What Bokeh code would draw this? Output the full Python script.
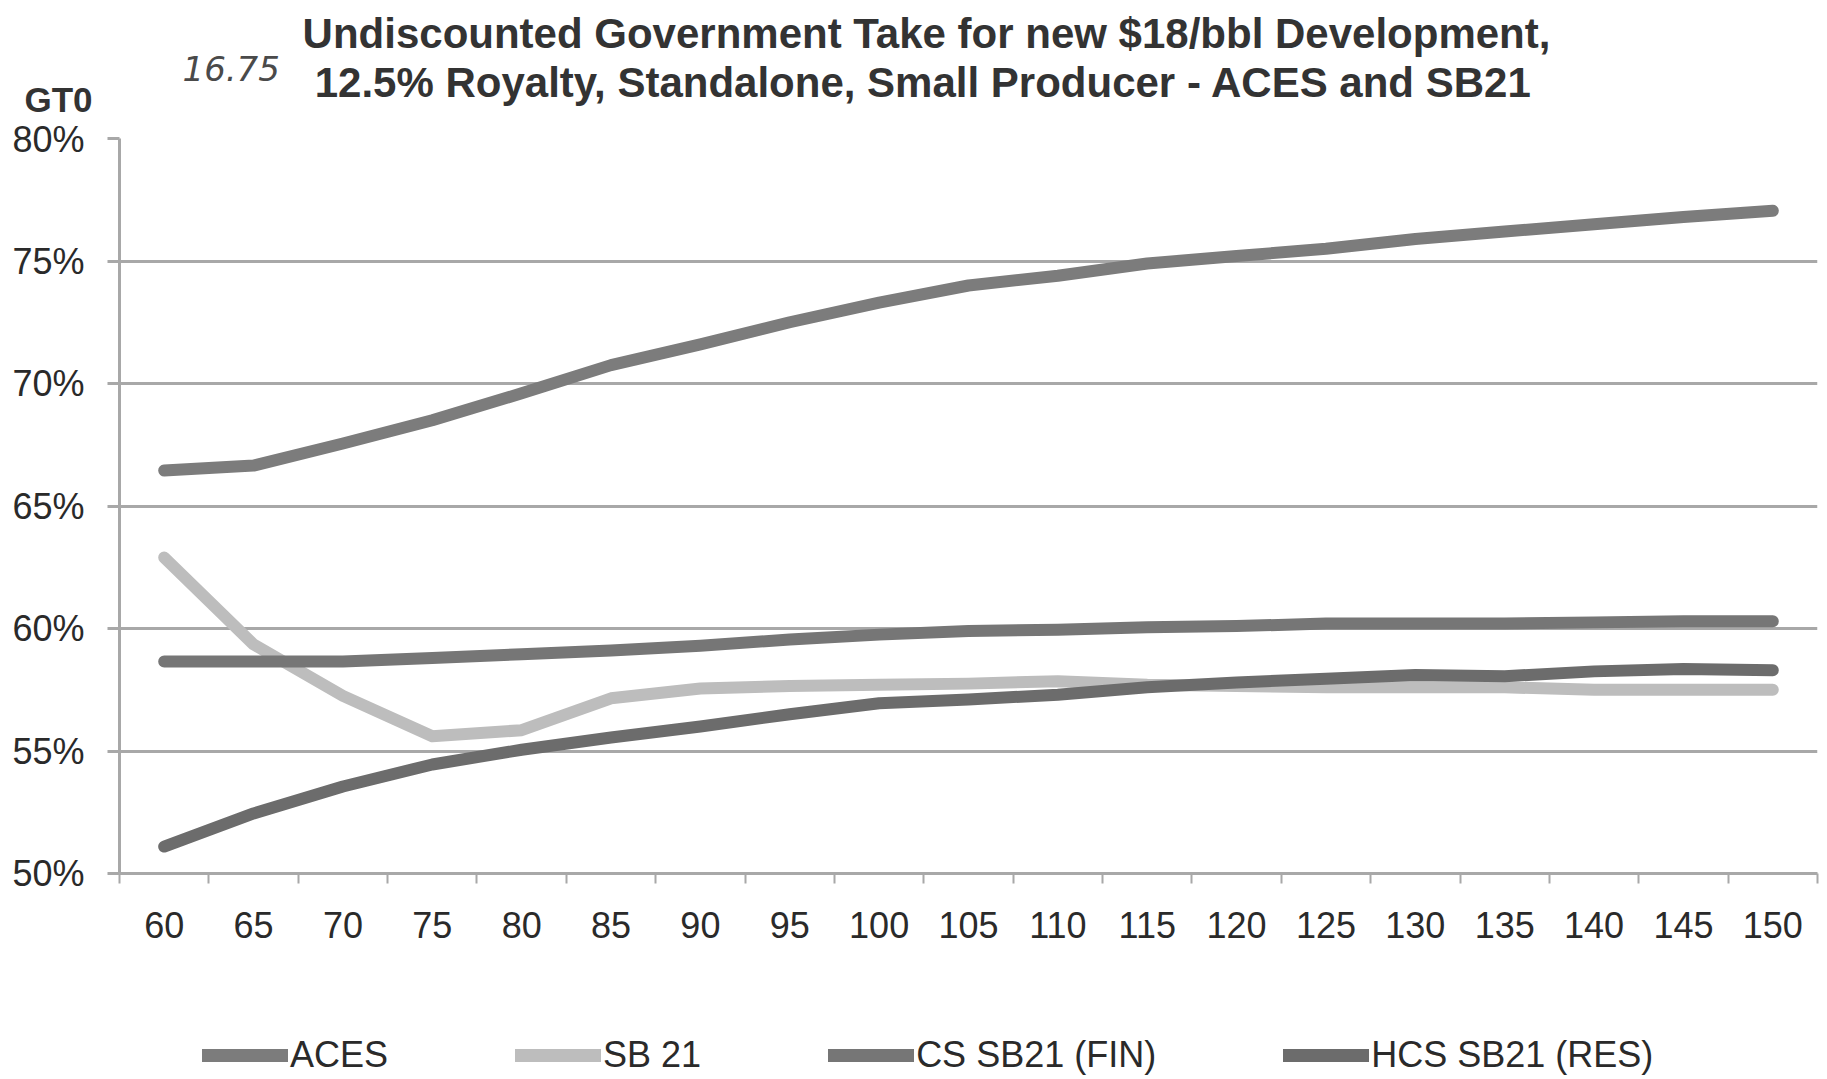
import numpy as np
from bokeh.plotting import figure
from bokeh.layouts import column
from bokeh.models import (Range1d, FixedTicker, CustomJSTickFormatter, PrintfTickFormatter,
                          Label, Legend, LegendItem)
from bokeh.embed import file_html
from bokeh.resources import INLINE

# ---- data ----
prices = ["60", "65", "70", "75", "80", "85", "90", "95", "100", "105",
          "110", "115", "120", "125", "130", "135", "140", "145", "150"]
aces = [66.45, 66.65, 67.55, 68.5, 69.6, 70.75, 71.6, 72.5, 73.3, 74.0,
        74.4, 74.9, 75.2, 75.5, 75.9, 76.2, 76.5, 76.8, 77.05]
sb21 = [62.9, 59.35, 57.25, 55.6, 55.85, 57.15, 57.55, 57.65, 57.7, 57.75,
        57.85, 57.7, 57.65, 57.6, 57.6, 57.6, 57.5, 57.5, 57.5]
cs_sb21 = [58.65, 58.65, 58.65, 58.8, 58.95, 59.1, 59.3, 59.55, 59.75, 59.9,
           59.95, 60.05, 60.1, 60.2, 60.2, 60.2, 60.25, 60.3, 60.3]
hcs_sb21 = [51.1, 52.45, 53.55, 54.45, 55.05, 55.55, 56.0, 56.5, 56.95, 57.1,
            57.3, 57.6, 57.8, 57.95, 58.1, 58.05, 58.25, 58.35, 58.3]
y_ticks = [50, 55, 60, 65, 70, 75, 80]
series_names = ["ACES", "SB 21", "CS SB21 (FIN)", "HCS SB21 (RES)"]
title_lines = ["Undiscounted Government Take for new $18/bbl Development,",
               "12.5% Royalty, Standalone, Small Producer - ACES and SB21"]
y_title = "GT0"
note = "16.75"

FONT = "Liberation Sans"
GRID = "#a8a8a8"
TXT = "#2a2a2a"
COLORS = ["#7c7c7c", "#bdbdbd", "#767676", "#6c6c6c"]
W = 1827
HEAD = 118
FOOT = 106
MAIN = 1079 - HEAD - FOOT
TOP_PAD = 20
FRAME_H = 735


def strip(height):
    f = figure(width=W, height=height, output_backend="svg", toolbar_location=None, tools="",
               x_range=Range1d(0, W), y_range=Range1d(height, 0),
               x_axis_location=None, y_axis_location=None, min_border=0,
               outline_line_color=None, background_fill_color="white", border_fill_color="white")
    f.grid.visible = False
    f.frame_align = False
    return f


# ---- header strip (title, y-axis title, handwritten note) ----
head = strip(HEAD)
head.add_layout(Label(x=926, y=33, text=title_lines[0], text_align="center", text_baseline="alphabetic",
                      text_font=FONT, text_font_size="42px", text_font_style="bold", text_color="#333333"))
head.add_layout(Label(x=923, y=82, text=title_lines[1], text_align="center", text_baseline="alphabetic",
                      text_font=FONT, text_font_size="42px", text_font_style="bold", text_color="#333333"))
head.add_layout(Label(x=24, y=99, text=y_title, text_align="left", text_baseline="alphabetic",
                      text_font=FONT, text_font_size="35px", text_font_style="bold", text_color="#333333"))
head.add_layout(Label(x=182, y=68, text=note, text_align="left", text_baseline="alphabetic",
                      text_font="DejaVu Sans", text_font_size="34px", text_font_style="italic",
                      text_color="#4a4a4a"))

# ---- main chart ----
n = len(prices)
x = np.arange(n) + 0.5

p = figure(width=W, height=MAIN, output_backend="svg", toolbar_location=None, tools="",
           x_range=Range1d(0, n), y_range=Range1d(50, 80),
           min_border_left=119, min_border_right=10, min_border_top=TOP_PAD,
           min_border_bottom=MAIN - TOP_PAD - FRAME_H,
           outline_line_color=None, background_fill_color="white", border_fill_color="white")
p.frame_align = False

xa = p.xaxis[0]
xa.ticker = FixedTicker(ticks=list(x), minor_ticks=list(range(0, n + 1)))
xa.formatter = CustomJSTickFormatter(args=dict(labels=prices), code="""
const i = Math.round(tick - 0.5);
return (i >= 0 && i < labels.length) ? labels[i] : '';
""")
xa.major_tick_out = 0
xa.major_tick_in = 0
xa.minor_tick_out = 10
xa.minor_tick_in = 0
xa.minor_tick_line_color = GRID
xa.minor_tick_line_width = 2
xa.axis_line_color = GRID
xa.axis_line_width = 3
xa.major_label_text_font = FONT
xa.major_label_text_font_size = "36px"
xa.major_label_text_color = TXT
xa.major_label_standoff = 28

ya = p.yaxis[0]
ya.ticker = FixedTicker(ticks=y_ticks)
ya.formatter = PrintfTickFormatter(format="%d%%")
ya.major_tick_out = 12
ya.major_tick_in = 0
ya.major_tick_line_color = GRID
ya.major_tick_line_width = 3
ya.minor_tick_line_color = None
ya.axis_line_color = GRID
ya.axis_line_width = 3
ya.major_label_text_font = FONT
ya.major_label_text_font_size = "36px"
ya.major_label_text_color = TXT
ya.major_label_standoff = 23

p.xgrid.grid_line_color = None
p.ygrid.grid_line_color = GRID
p.ygrid.grid_line_width = 3
p.ygrid.ticker = FixedTicker(ticks=y_ticks)

series = [aces, sb21, cs_sb21, hcs_sb21]
for vals, c in zip(series, COLORS):
    p.line(x, vals, line_width=12, line_color=c, line_cap="round", line_join="round")

# ---- footer strip with the legend (hidden copies of the series supply the legend glyphs) ----
foot = strip(FOOT)
foot.y_range = Range1d(0, FOOT)
legend_renderers = [foot.line(x, vals, line_width=13, line_color=c, line_cap="round", visible=False)
                    for vals, c in zip(series, COLORS)]
legend = Legend(items=[LegendItem(label=nm, renderers=[r])
                       for nm, r in zip(series_names, legend_renderers)],
                orientation="horizontal", location=(202, 3),
                glyph_width=86, glyph_height=40, label_height=40, label_standoff=2, spacing=127,
                padding=0, margin=0, border_line_color=None, background_fill_alpha=0,
                inactive_fill_alpha=0,
                label_text_font=FONT, label_text_font_size="36px", label_text_color=TXT)
foot.add_layout(legend)

layout = column(head, p, foot, spacing=0)
open("out.html", "w").write(file_html(layout, INLINE))
